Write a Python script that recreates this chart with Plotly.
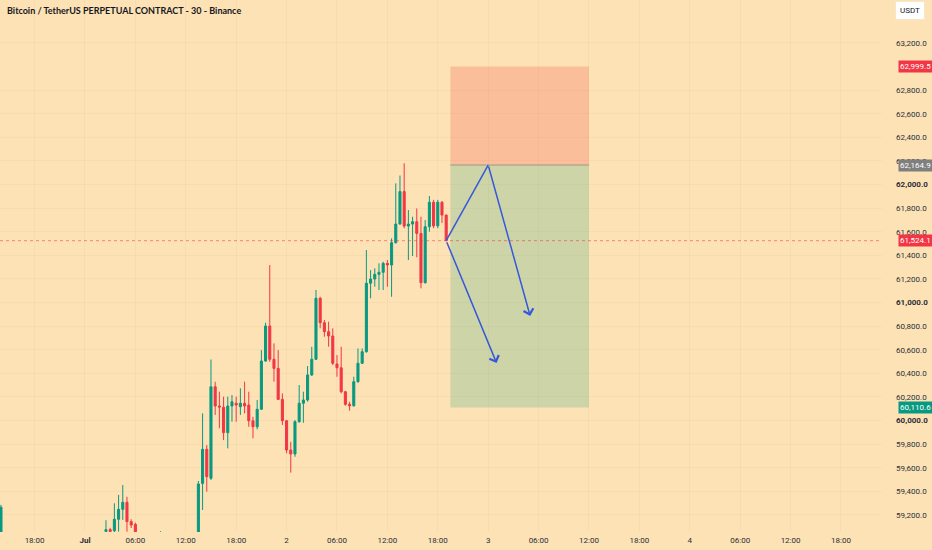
import pandas as pd
import plotly.graph_objects as go

# --- candle data (30 min, BTCUSDT perpetual) ---
# slot = number of 30-min steps from 2024-07-01 00:00
slots = [-20, 5, 6, 7, 8, 9, 10, 11, 12, 18,
         27, 28, 29, 30, 31, 32, 33, 34, 35, 36, 37, 38, 39, 40,
         41, 42, 43, 44, 45, 46, 47, 48, 49, 50, 51, 52, 53, 54,
         55, 56, 57, 58, 59, 60, 61, 62, 63, 64, 65, 66, 67, 68,
         69, 70, 71, 72, 73, 74, 75, 76, 77, 78, 79, 80, 81, 82,
         83, 84, 85, 86]
opens = [58980, 59060, 59075, 59065, 59163, 59247, 59307, 59143, 59120, 58990,
         58980, 59467, 59756, 59510, 60286, 60123, 60112, 59897, 60123, 60146, 60117, 60146, 60131, 59998,
         59947, 60095, 60504, 60801, 60519, 60442, 60179, 59998, 59750, 59716, 59990, 60146, 60174, 60386,
         60519, 61036, 60829, 60753, 60716, 60479, 60447, 60244, 60137, 60125, 60329, 60485, 60583, 61163,
         61199, 61239, 61256, 61332, 61318, 61507, 61665, 61940, 61648, 61665, 61685, 61586, 61168, 61642,
         61850, 61650, 61850, 61741]
highs = [59285, 59155, 59090, 59298, 59369, 59453, 59354, 59163, 59134, 59062,
         59487, 60060, 59792, 60517, 60328, 60244, 60202, 60202, 60216, 60202, 60273, 60329, 60244, 60032,
         60174, 60597, 60829, 61318, 60654, 60597, 60230, 60004, 59820, 60004, 60301, 60244, 60462, 60625,
         61106, 61049, 60852, 60837, 60781, 60555, 60625, 60250, 60159, 60371, 60611, 60611, 61445, 61275,
         61290, 61332, 61346, 61360, 61544, 62010, 62076, 62180, 61784, 61727, 61798, 61727, 61699, 61903,
         61870, 61870, 61860, 61745]
lows = [58950, 59040, 59040, 59040, 59058, 59157, 59058, 59089, 59000, 58960,
        58960, 59242, 59397, 59496, 60047, 59934, 59835, 59764, 59990, 59990, 60047, 60061, 59947, 59849,
        59925, 60089, 60498, 60498, 60329, 60174, 59962, 59722, 59558, 59693, 59981, 59981, 60159, 60377,
        60513, 60781, 60710, 60625, 60470, 60371, 60230, 60125, 60083, 60117, 60320, 60479, 60575, 61036,
        61134, 61106, 61106, 61134, 61049, 61500, 61660, 61629, 61360, 61394, 61383, 61120, 61160, 61600,
        61630, 61630, 61674, 61520]
closes = [59265, 59075, 59060, 59163, 59247, 59307, 59143, 59114, 59058, 59020,
          59462, 59756, 59524, 60286, 60123, 60114, 59897, 60123, 60159, 60131, 60146, 60123, 59998, 59947,
          60095, 60504, 60801, 60519, 60442, 60179, 59998, 59750, 59716, 59990, 60146, 60174, 60386, 60519,
          61036, 60829, 60753, 60716, 60485, 60447, 60244, 60137, 60125, 60329, 60485, 60583, 61163, 61199,
          61239, 61256, 61332, 61318, 61507, 61665, 61940, 61648, 61665, 61685, 61586, 61168, 61642, 61850,
          61650, 61850, 61741, 61524.1]

# --- short position tool levels ---
entry_price = 61524.1
stop_price = 62999.5
pivot_price = 62164.9
target_price = 60110.6
box_start = "2024-07-02 19:30"
box_end = "2024-07-03 12:00"

# --- drawn arrows (time, price) ---
path_times = ["2024-07-02 19:00", "2024-07-03 00:00", "2024-07-03 05:00"]
path_prices = [61524.1, 62164.9, 60886]
drop_times = ["2024-07-02 19:00", "2024-07-03 01:00"]
drop_prices = [61524.1, 60487]

# --- axes ---
x_tickvals = ["2024-06-30 18:00", "2024-07-01 00:00", "2024-07-01 06:00", "2024-07-01 12:00",
              "2024-07-01 18:00", "2024-07-02 00:00", "2024-07-02 06:00", "2024-07-02 12:00",
              "2024-07-02 18:00", "2024-07-03 00:00", "2024-07-03 06:00", "2024-07-03 12:00",
              "2024-07-03 18:00", "2024-07-04 00:00", "2024-07-04 06:00", "2024-07-04 12:00",
              "2024-07-04 18:00"]
x_ticktext = ["18:00", "<b>Jul</b>", "06:00", "12:00", "18:00", "2", "06:00", "12:00", "18:00",
              "3", "06:00", "12:00", "18:00", "4", "06:00", "12:00", "18:00"]
# 63,000 sits under the stop badge, so it is left out
y_tickvals = [v for v in range(59200, 63400, 200) if v != 63000]
y_ticktext = [("<b>%s</b>" if v % 1000 == 0 else "%s") % f"{v:,.1f}" for v in y_tickvals]

GREEN = "#089981"
RED = "#F23645"
BLUE = "#3558DC"
BG = "#FDE2B5"

times = pd.Timestamp("2024-07-01 00:00") + pd.to_timedelta([s * 30 for s in slots], unit="min")

fig = go.Figure()

fig.add_trace(go.Candlestick(
    x=times, open=opens, high=highs, low=lows, close=closes,
    increasing=dict(line=dict(color=GREEN, width=1), fillcolor=GREEN),
    decreasing=dict(line=dict(color=RED, width=1), fillcolor=RED),
    whiskerwidth=0, showlegend=False, hoverinfo="skip",
))

# first leg of the drawing (plain line)
fig.add_trace(go.Scatter(
    x=path_times[:2], y=path_prices[:2], mode="lines",
    line=dict(color=BLUE, width=1.5), showlegend=False, hoverinfo="skip",
))

shapes = [
    dict(type="rect", xref="x", yref="y", x0=box_start, x1=box_end, y0=pivot_price, y1=stop_price,
         fillcolor="#FBBE9B", line=dict(width=0), layer="below"),
    dict(type="rect", xref="x", yref="y", x0=box_start, x1=box_end, y0=target_price, y1=pivot_price,
         fillcolor="#CDD4A7", line=dict(width=0), layer="below"),
    dict(type="line", xref="x", yref="y", x0=box_start, x1=box_end, y0=pivot_price, y1=pivot_price,
         line=dict(color="#B7A98E", width=1.5), layer="below"),
    dict(type="line", xref="paper", yref="y", x0=0, x1=1, y0=entry_price, y1=entry_price,
         line=dict(color="rgba(242,54,69,0.55)", width=1, dash="dot")),
]

annotations = [
    dict(xref="x", yref="y", axref="x", ayref="y",
         x=path_times[2], y=path_prices[2], ax=path_times[1], ay=path_prices[1],
         showarrow=True, arrowhead=4, arrowsize=1.3, arrowwidth=1.5, arrowcolor=BLUE, text=""),
    dict(xref="x", yref="y", axref="x", ayref="y",
         x=drop_times[1], y=drop_prices[1], ax=drop_times[0], ay=drop_prices[0],
         showarrow=True, arrowhead=4, arrowsize=1.3, arrowwidth=1.5, arrowcolor=BLUE, text=""),
    dict(xref="paper", yref="paper", x=0.006, y=0.981, xanchor="left", yanchor="middle",
         text="<b>Bitcoin / TetherUS PERPETUAL CONTRACT - 30 - Binance</b>", showarrow=False,
         font=dict(size=9, color="#131722", family="Lato")),
    dict(xref="paper", yref="paper", x=1.0317, y=0.981, xanchor="center", yanchor="middle",
         text="USDT", showarrow=False, bgcolor="white", bordercolor="#F5E6CC", borderwidth=1,
         borderpad=4, font=dict(size=8, color="#131722", family="Roboto")),
]

badges = [(stop_price, RED), (pivot_price, "#7F7F7F"), (entry_price, RED), (target_price, GREEN)]
for price, col in badges:
    annotations.append(dict(
        xref="paper", yref="y", x=1.018, y=price, xanchor="left", yanchor="middle",
        text=f"{price:,.1f}", showarrow=False, bgcolor=col, borderpad=1,
        font=dict(size=8, color="white", family="Roboto"),
    ))

fig.update_layout(
    width=932, height=550,
    margin=dict(l=0, r=50, t=0, b=18),
    paper_bgcolor=BG, plot_bgcolor=BG,
    font=dict(family="Roboto", size=8, color="#2A2E39"),
    showlegend=False,
    shapes=shapes, annotations=annotations,
    xaxis=dict(
        range=["2024-06-30 13:53", "2024-07-04 22:53"],
        rangeslider=dict(visible=False),
        tickmode="array", tickvals=x_tickvals, ticktext=x_ticktext,
        showgrid=True, gridcolor="rgba(0,0,0,0.025)", zeroline=False,
        ticks="", showline=False, ticklabelstandoff=2,
    ),
    yaxis=dict(
        side="right", range=[59055, 63564],
        tickmode="array", tickvals=y_tickvals, ticktext=y_ticktext,
        showgrid=True, gridcolor="rgba(0,0,0,0.025)", zeroline=False,
        ticks="", showline=False, ticklabelstandoff=13,
    ),
)

# the page body has a default 8px margin; drop it so the chart fills the window
fig.write_html("out.html", config={"displayModeBar": False},
               post_script="document.body.style.margin='0';document.body.style.overflow='hidden';")
